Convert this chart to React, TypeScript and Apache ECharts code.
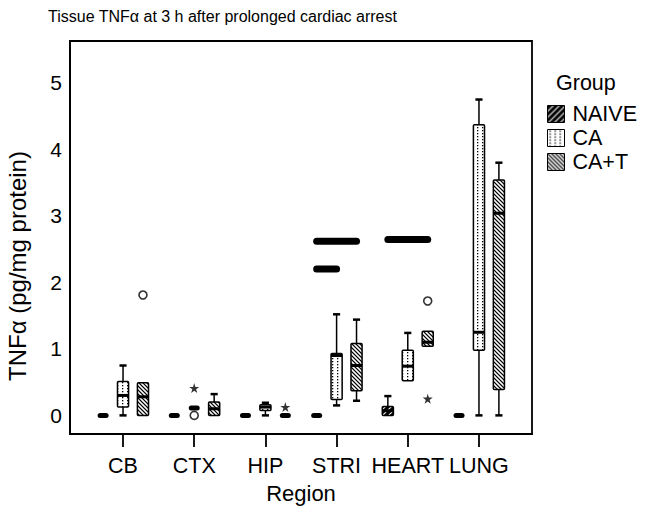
import React, { useEffect, useRef } from "react";
import * as echarts from "echarts";

const categories = ["CB", "CTX", "HIP", "STRI", "HEART", "LUNG"];
const groups = ["NAIVE", "CA", "CA+T"];
const yTickValues = [0, 1, 2, 3, 4, 5];

// [min, Q1, median, Q3, max] for each region
const naiveBoxes = [
  [0, 0, 0, 0, 0],
  [0, 0, 0, 0, 0],
  [0, 0, 0, 0, 0],
  [0, 0, 0, 0, 0],
  [0, 0, 0.07, 0.135, 0.29],
  [0, 0, 0, 0, 0],
];
const caBoxes = [
  [0, 0.125, 0.3, 0.51, 0.75],
  [0.11, 0.11, 0.11, 0.11, 0.11],
  [0, 0.075, 0.125, 0.16, 0.19],
  [0.15, 0.24, 0.9, 0.93, 1.52],
  [0.52, 0.52, 0.74, 0.98, 1.24],
  [0, 0.98, 1.25, 4.37, 4.75],
];
const caTBoxes = [
  [0, 0, 0.28, 0.49, 0.49],
  [0, 0, 0.1, 0.2, 0.32],
  [0, 0, 0, 0, 0],
  [0.22, 0.37, 0.75, 1.08, 1.44],
  [1.04, 1.04, 1.1, 1.265, 1.265],
  [0, 0.39, 3.04, 3.54, 3.8],
];

// outliers (circles): [region, group, value]
const outlierPoints = [
  ["CB", "CA+T", 1.81],
  ["CTX", "CA", 0],
  ["HEART", "CA+T", 1.72],
];
// extreme values (stars): [region, group, value]
const extremePoints = [
  ["CTX", "CA", 0.41],
  ["HIP", "CA+T", 0.125],
  ["HEART", "CA+T", 0.25],
];
// thick horizontal marks: [region, fromGroup, toGroup, value]
const wideMarks = [
  ["STRI", "NAIVE", "CA+T", 2.62],
  ["STRI", "NAIVE", "CA", 2.2],
  ["HEART", "NAIVE", "CA+T", 2.645],
];

const FONT = "'Liberation Sans', Arial, Helvetica, sans-serif";
const GROUP_OFFSETS = [-0.28, 0, 0.28];
const BOX_HALF = 0.078;
const CAP_HALF = 0.05;
const BAR_HALF = 0.042;

function makePattern(kind: string) {
  const k = 4;
  const w = kind === "ca" ? 5 : kind === "naive" ? 6 : 4;
  const h = kind === "ca" ? 3 : w;
  const c = document.createElement("canvas");
  c.width = w * k;
  c.height = h * k;
  const ctx = c.getContext("2d")!;
  ctx.scale(k, k);
  if (kind === "naive") {
    ctx.fillStyle = "#000";
    ctx.fillRect(0, 0, w, h);
    ctx.strokeStyle = "#fff";
    ctx.lineWidth = 1.1;
    ctx.beginPath();
    ctx.moveTo(-1, h + 1);
    ctx.lineTo(w + 1, -1);
    ctx.moveTo(-1, 1);
    ctx.lineTo(1, -1);
    ctx.moveTo(w - 1, h + 1);
    ctx.lineTo(w + 1, h - 1);
    ctx.stroke();
  } else if (kind === "ca") {
    ctx.fillStyle = "#fff";
    ctx.fillRect(0, 0, w, h);
    ctx.fillStyle = "#000";
    ctx.fillRect(2, 1, 1.3, 1.3);
  } else {
    ctx.fillStyle = "#fff";
    ctx.fillRect(0, 0, w, h);
    ctx.strokeStyle = "#000";
    ctx.lineWidth = 1.2;
    ctx.beginPath();
    ctx.moveTo(-1, -1);
    ctx.lineTo(w + 1, h + 1);
    ctx.moveTo(w - 1, -1);
    ctx.lineTo(w + 1, 1);
    ctx.moveTo(-1, h - 1);
    ctx.lineTo(1, h + 1);
    ctx.stroke();
  }
  return { image: c, repeat: "repeat", imageWidth: w, imageHeight: h } as any;
}

function starPath() {
  const pts: string[] = [];
  for (let i = 0; i < 10; i++) {
    const a = (-90 + 36 * i) * (Math.PI / 180);
    const r = i % 2 === 0 ? 10 : 3.8;
    pts.push(`${(r * Math.cos(a)).toFixed(2)} ${(r * Math.sin(a)).toFixed(2)}`);
  }
  return "path://M" + pts.join(" L") + " Z";
}

export default function App() {
  const ref = useRef<HTMLDivElement>(null);
  useEffect(() => {
    if (!ref.current) return;
    const chart = echarts.init(ref.current, null, { renderer: "svg" });
    const patterns = [makePattern("naive"), makePattern("ca"), makePattern("cat")];
    const boxSets = [naiveBoxes, caBoxes, caTBoxes];

    const boxSeries = groups.map((g, gi) => ({
      type: "custom",
      name: g,
      itemStyle: { color: patterns[gi], borderColor: "#000", borderWidth: 1 },
      encode: { x: 0, y: [1, 2, 3, 4, 5] },
      data: boxSets[gi].map((b, ci) => [ci + GROUP_OFFSETS[gi], ...b]),
      renderItem: (params: any, api: any) => {
        const xc = api.value(0);
        const vMin = api.value(1);
        const q1 = api.value(2);
        const med = api.value(3);
        const q3 = api.value(4);
        const vMax = api.value(5);
        const unit = api.size([1, 0])[0];
        const [cx, pMin] = api.coord([xc, vMin]);
        const pQ1 = api.coord([xc, q1])[1];
        const pMed = api.coord([xc, med])[1];
        const pQ3 = api.coord([xc, q3])[1];
        const pMax = api.coord([xc, vMax])[1];
        const hw = unit * BOX_HALF;
        const cw = unit * CAP_HALF;
        const children: any[] = [];
        const black = { stroke: "#000", lineWidth: 1.5 };
        if (q3 - q1 < 1e-9 && vMax - vMin < 1e-9) {
          const bw = unit * BAR_HALF;
          children.push({
            type: "line",
            shape: { x1: cx - bw, y1: pMed, x2: cx + bw, y2: pMed },
            style: { stroke: "#000", lineWidth: 5, lineCap: "round" },
          });
          return { type: "group", children };
        }
        if (vMax > q3) {
          children.push({ type: "line", shape: { x1: cx, y1: pQ3, x2: cx, y2: pMax }, style: black });
          children.push({
            type: "line",
            shape: { x1: cx - cw, y1: pMax, x2: cx + cw, y2: pMax },
            style: { stroke: "#000", lineWidth: 2.5 },
          });
        }
        if (vMin < q1) {
          children.push({ type: "line", shape: { x1: cx, y1: pQ1, x2: cx, y2: pMin }, style: black });
          children.push({
            type: "line",
            shape: { x1: cx - cw, y1: pMin, x2: cx + cw, y2: pMin },
            style: { stroke: "#000", lineWidth: 2.5 },
          });
        }
        children.push({
          type: "rect",
          shape: { x: cx - hw, y: pQ3, width: 2 * hw, height: Math.max(pQ1 - pQ3, 1), r: 1 },
          style: { fill: patterns[gi], stroke: "#000", lineWidth: 1.5 },
        });
        children.push({
          type: "line",
          shape: { x1: cx - hw, y1: pMed, x2: cx + hw, y2: pMed },
          style: { stroke: "#000", lineWidth: 3 },
        });
        return { type: "group", children };
      },
    }));

    const pos = (region: string, group: string) =>
      categories.indexOf(region) + GROUP_OFFSETS[groups.indexOf(group)];

    const option: any = {
      animation: false,
      backgroundColor: "#fff",
      textStyle: { fontFamily: FONT, color: "#000" },
      title: {
        text: "Tissue TNFα at 3 h after prolonged cardiac arrest",
        left: 43,
        top: 3,
        textStyle: { fontSize: 16, fontWeight: "normal", color: "#000", fontFamily: FONT },
      },
      legend: {
        orient: "vertical",
        left: 547,
        top: 103,
        padding: 0,
        itemWidth: 17,
        itemHeight: 17,
        itemGap: 2,
        icon: "rect",
        data: groups.map((g, gi) => ({
          name: g,
          itemStyle: { color: patterns[gi], borderColor: "#000", borderWidth: 1 },
        })),
        textStyle: { fontSize: 21.5, lineHeight: 17, color: "#000", fontFamily: FONT, padding: [0, 0, 0, 3] },
        selectedMode: false,
      },
      graphic: [
        {
          type: "text",
          left: 556,
          top: 72,
          style: { text: "Group", fontSize: 21.5, fill: "#000", fontFamily: FONT },
        },
        {
          type: "text",
          x: 17,
          y: 266,
          rotation: Math.PI / 2,
          style: {
            text: "TNFα (pg/mg protein)",
            fontSize: 24,
            fill: "#000",
            fontFamily: FONT,
            textAlign: "center",
            textVerticalAlign: "middle",
          },
        },
      ],
      grid: {
        left: 70,
        right: 114,
        top: 41,
        bottom: 82,
        containLabel: false,
        show: true,
        borderColor: "#000",
        borderWidth: 1.8,
        backgroundColor: "transparent",
      },
      xAxis: {
        type: "value",
        min: -0.745,
        max: 5.745,
        name: "Region",
        nameLocation: "middle",
        nameGap: 48,
        nameTextStyle: { fontSize: 22, color: "#000", fontFamily: FONT },
        axisLine: { show: true, onZero: false, lineStyle: { color: "#000", width: 1.8 } },
        axisTick: { show: true, customValues: categories.map((_, i) => i), length: 13, lineStyle: { color: "#000", width: 1.8 } },
        axisLabel: {
          customValues: categories.map((_, i) => i),
          formatter: (v: number) => categories[Math.round(v)] ?? "",
          fontSize: 21.5,
          color: "#000",
          fontFamily: FONT,
          margin: 21,
        },
        splitLine: { show: false },
      },
      yAxis: {
        type: "value",
        min: -0.28,
        max: 5.63,
        axisLine: { show: true, onZero: false, lineStyle: { color: "#000", width: 1.8 } },
        axisTick: { show: false },
        axisLabel: {
          customValues: yTickValues,
          fontSize: 21,
          color: "#000",
          fontFamily: FONT,
          margin: 8,
        },
        splitLine: { show: false },
      },
      series: [
        ...boxSeries,
        {
          type: "custom",
          name: "wide",
          encode: { x: [0, 1], y: 2 },
          data: wideMarks.map((m) => [pos(m[0] as string, m[1] as string), pos(m[0] as string, m[2] as string), m[3]]),
          renderItem: (params: any, api: any) => {
            const a = api.coord([api.value(0), api.value(2)]);
            const b = api.coord([api.value(1), api.value(2)]);
            return {
              type: "line",
              shape: { x1: a[0], y1: a[1], x2: b[0], y2: b[1] },
              style: { stroke: "#000", lineWidth: 7, lineCap: "round" },
            };
          },
        },
        {
          type: "scatter",
          name: "outliers",
          symbol: "circle",
          symbolSize: 8,
          itemStyle: { color: "#fff", borderColor: "#000", borderWidth: 1.6 },
          data: outlierPoints.map((p) => [pos(p[0] as string, p[1] as string), p[2]]),
        },
        {
          type: "scatter",
          name: "extremes",
          symbol: starPath(),
          symbolSize: 10,
          itemStyle: { color: "#000" },
          data: extremePoints.map((p) => [pos(p[0] as string, p[1] as string), p[2]]),
        },
      ],
    };
    chart.setOption(option);
    return () => chart.dispose();
  }, []);
  return <div ref={ref} style={{ position: "fixed", left: 0, top: 0, width: 646, height: 516 }} />;
}
